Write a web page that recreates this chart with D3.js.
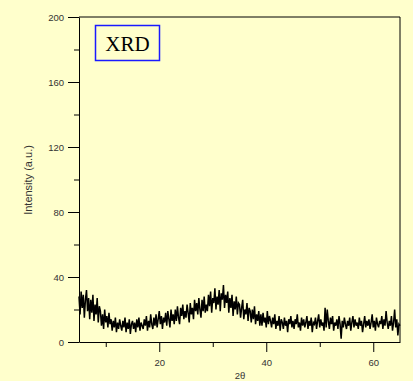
<!DOCTYPE html>
<html>
<head>
<meta charset="utf-8">
<script src="https://cdn.jsdelivr.net/npm/d3@7"></script>
<style>
  html, body { margin: 0; padding: 0; background: #ffffcc; }
  svg { display: block; }
</style>
</head>
<body>
<div id="chart"></div>
<script>
// diffraction scan, 2θ from 5 to 65 in 0.2° steps
const thetaStart = 5
const thetaStep = 0.2
const intensity = [
  28, 17, 31, 21, 29, 15, 26, 32, 19, 27,
  14, 26, 18, 29, 13, 23, 17, 27, 12, 22,
  19, 10, 17, 8, 20, 12, 16, 9, 18, 11,
  14, 7, 13, 9, 15, 6, 12, 8, 14, 10,
  7, 13, 9, 15, 6, 12, 8, 14, 5, 11,
  13, 8, 12, 6, 14, 9, 15, 7, 12, 10,
  8, 14, 10, 16, 7, 13, 9, 17, 11, 8,
  15, 10, 17, 9, 14, 19, 11, 16, 8, 15,
  12, 18, 10, 19, 14, 9, 20, 13, 17, 11,
  20, 13, 22, 15, 11, 21, 16, 23, 14, 19,
  15, 23, 18, 12, 24, 17, 21, 14, 26, 19,
  24, 17, 27, 20, 15, 26, 19, 28, 18, 23,
  19, 29, 22, 31, 18, 27, 24, 33, 20, 28,
  23, 32, 19, 30, 26, 35, 21, 29, 24, 31,
  18, 27, 21, 29, 16, 25, 20, 28, 17, 24,
  23, 15, 21, 26, 14, 20, 17, 24, 13, 21,
  19, 12, 20, 14, 22, 11, 17, 13, 19, 10,
  17, 10, 18, 12, 15, 9, 19, 11, 16, 13,
  9, 15, 11, 17, 8, 13, 10, 16, 7, 14,
  12, 8, 15, 10, 13, 6, 14, 11, 16, 9,
  13, 8, 14, 11, 17, 9, 12, 7, 15, 10,
  14, 9, 12, 16, 8, 13, 10, 15, 6, 12,
  11, 15, 8, 13, 17, 9, 14, 10, 12, 7,
  21, 9, 20, 13, 8, 15, 11, 16, 7, 12,
  10, 14, 8, 16, 11, 2, 13, 9, 15, 11,
  8, 13, 10, 15, 7, 12, 16, 9, 14, 10,
  12, 8, 15, 10, 13, 6, 11, 16, 9, 13,
  10, 14, 8, 12, 17, 9, 13, 7, 15, 11,
  9, 13, 11, 16, 8, 14, 10, 19, 12, 8,
  13, 10, 16, 7, 12, 20, 9, 14, 4, 11,
  10
]
const xMajorTicks = [20, 40, 60]
const xMinorTicks = [10, 30, 50]
const yMajorTicks = [0, 40, 80, 120, 160, 200]
const yMinorTicks = [20, 60, 100, 140, 180]

const width = 413
const height = 381
const margin = { top: 17, right: 13, bottom: 39, left: 79 }

const svg = d3.select('#chart')
  .append('svg')
  .attr('width', width)
  .attr('height', height)
  .style('background', '#ffffcc')

const x = d3.scaleLinear()
  .domain([5, 65])
  .range([margin.left, width - margin.right])

const y = d3.scaleLinear()
  .domain([0, 200])
  .range([height - margin.bottom, margin.top])

const points = intensity.map((v, i) => ({ t: thetaStart + i * thetaStep, v }))

const line = d3.line()
  .x(d => x(d.t))
  .y(d => y(d.v))

svg.append('path')
  .datum(points)
  .attr('fill', 'none')
  .attr('stroke', '#000')
  .attr('stroke-width', 1.5)
  .attr('stroke-linejoin', 'miter')
  .attr('d', line)

// frame on top and right
svg.append('line')
  .attr('x1', x(5)).attr('x2', x(65))
  .attr('y1', y(200)).attr('y2', y(200))
  .attr('stroke', '#000')
svg.append('line')
  .attr('x1', x(65)).attr('x2', x(65))
  .attr('y1', y(0)).attr('y2', y(200))
  .attr('stroke', '#000')

function styleAxis(g) {
  g.select('.domain').attr('stroke', '#000')
  g.selectAll('.tick line').attr('stroke', '#000')
  g.selectAll('.tick text')
    .attr('fill', '#333')
    .attr('font-family', 'Arial, "Liberation Sans", sans-serif')
    .attr('font-size', '9.5px')
}

svg.append('g')
  .attr('transform', `translate(0,${y(0)})`)
  .call(d3.axisBottom(x).tickValues(xMajorTicks).tickSize(10).tickPadding(7).tickSizeOuter(0))
  .call(styleAxis)

svg.append('g')
  .attr('transform', `translate(0,${y(0)})`)
  .call(d3.axisBottom(x).tickValues(xMinorTicks).tickSize(5).tickFormat('').tickSizeOuter(0))
  .call(g => g.select('.domain').remove())
  .call(styleAxis)

svg.append('g')
  .attr('transform', `translate(${x(5)},0)`)
  .call(d3.axisLeft(y).tickValues(yMajorTicks).tickSize(11).tickPadding(4).tickSizeOuter(0))
  .call(styleAxis)

svg.append('g')
  .attr('transform', `translate(${x(5)},0)`)
  .call(d3.axisLeft(y).tickValues(yMinorTicks).tickSize(5).tickFormat('').tickSizeOuter(0))
  .call(g => g.select('.domain').remove())
  .call(styleAxis)

svg.append('text')
  .attr('x', 240)
  .attr('y', 379)
  .attr('text-anchor', 'middle')
  .attr('fill', '#333')
  .attr('font-family', 'Arial, "Liberation Sans", sans-serif')
  .attr('font-size', '9.5px')
  .text('2θ')

svg.append('text')
  .attr('transform', `translate(32,180) rotate(-90)`)
  .attr('text-anchor', 'middle')
  .attr('fill', '#333')
  .attr('font-family', 'Arial, "Liberation Sans", sans-serif')
  .attr('font-size', '11px')
  .text('Intensity (a.u.)')

// title box
svg.append('rect')
  .attr('x', 95.5).attr('y', 25.5)
  .attr('width', 64).attr('height', 35)
  .attr('fill', 'none')
  .attr('stroke', '#1a1aff')
  .attr('stroke-width', 1.5)

svg.append('text')
  .attr('x', 127.5)
  .attr('y', 51)
  .attr('text-anchor', 'middle')
  .attr('fill', '#000')
  .attr('font-family', '"Times New Roman", "Liberation Serif", serif')
  .attr('font-size', '21px')
  .text('XRD')
</script>
</body>
</html>
